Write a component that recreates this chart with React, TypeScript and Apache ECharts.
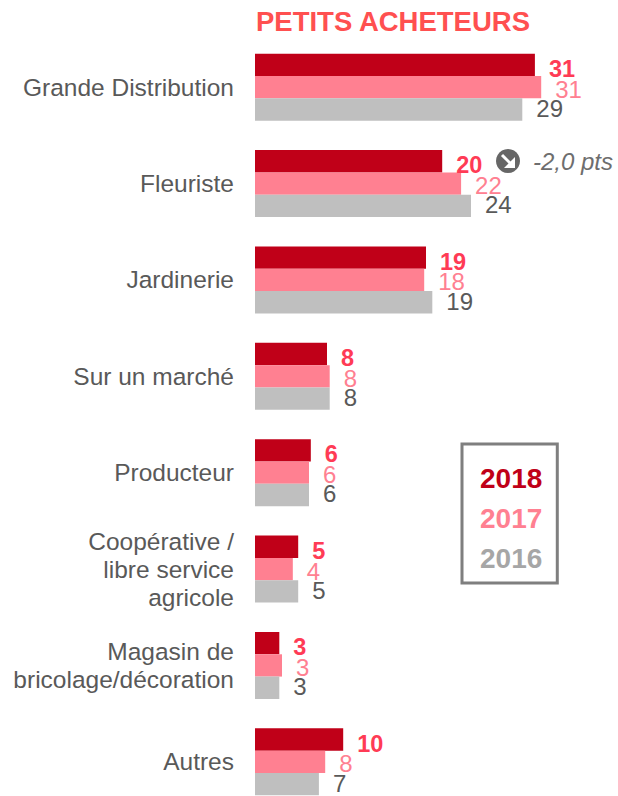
import React, { useEffect, useRef } from "react";
import * as echarts from "echarts";

const categories = ["Grande Distribution", "Fleuriste", "Jardinerie", "Sur un marché", "Producteur", "Coopérative /\nlibre service\nagricole", "Magasin de\nbricolage/décoration", "Autres"];
const seriesNames = ["2018", "2017", "2016"];
const barLengths2018 = [31.1, 20.8, 19, 8, 6.2, 4.8, 2.7, 9.8];
const barLengths2017 = [31.8, 22.9, 18.8, 8.3, 6, 4.2, 3, 7.8];
const barLengths2016 = [29.7, 24, 19.7, 8.3, 6, 4.8, 2.7, 7.1];
const labels2018 = [31, 20, 19, 8, 6, 5, 3, 10];
const labels2017 = [31, 22, 18, 8, 6, 4, 3, 8];
const labels2016 = [29, 24, 19, 8, 6, 5, 3, 7];
const titleText = "PETITS ACHETEURS";
const noteText = "-2,0 pts";

const FONT = "'Liberation Sans', Arial, sans-serif";

function makeSeries(name: string, values: number[], labels: number[], color: string, labelColor: string, bold: boolean, dy: number) {
  return {
    name,
    type: "bar",
    data: values,
    barWidth: 22.3,
    barGap: "0%",
    itemStyle: { color },
    label: {
      show: true,
      position: "right",
      distance: 14,
      offset: [0, dy],
      color: labelColor,
      fontFamily: FONT,
      fontSize: bold ? 23.5 : 24,
      fontWeight: bold ? "bold" : "normal",
      formatter: (p: any) => String(labels[p.dataIndex]),
    },
  };
}

export default function App() {
  const ref = useRef<HTMLDivElement>(null);
  useEffect(() => {
    const chart = echarts.init(ref.current!, undefined, { renderer: "svg" });
    chart.setOption({
      animation: false,
      title: {
        text: titleText,
        left: 256,
        top: 7,
        padding: 0,
        textStyle: { color: "#FF5050", fontFamily: FONT, fontSize: 27.5, fontWeight: "bold" },
      },
      grid: { left: 255, top: 39, width: 360, height: 771, outerBoundsMode: "none", containLabel: false },
      xAxis: { type: "value", min: 0, max: 40, show: false },
      yAxis: {
        type: "category",
        inverse: true,
        data: categories,
        axisLine: { show: false },
        axisTick: { show: false },
        axisLabel: { color: "#595959", fontFamily: FONT, fontSize: 24.5, margin: 21, lineHeight: 28, align: "right" },
      },
      legend: {
        orient: "vertical",
        left: 462,
        top: 444,
        itemWidth: 0,
        itemHeight: 0,
        icon: "none",
        itemGap: 12,
        padding: [20, 15, 11, 13],
        borderColor: "#7F7F7F",
        borderWidth: 3,
        selectedMode: false,
        data: [
          { name: "2018", textStyle: { color: "#C00018" } },
          { name: "2017", textStyle: { color: "#FF8091" } },
          { name: "2016", textStyle: { color: "#A6A6A6" } },
        ],
        textStyle: { fontFamily: FONT, fontSize: 28, fontWeight: "bold" },
      },
      graphic: [
        { type: "circle", shape: { cx: 508, cy: 161, r: 12 }, style: { fill: "#666666" } },
        { type: "line", shape: { x1: 502, y1: 155, x2: 513, y2: 166 }, style: { stroke: "#FFFFFF", lineWidth: 3 } },
        { type: "polygon", shape: { points: [[515, 157], [515, 168], [504, 168]] }, style: { fill: "#FFFFFF" } },
        {
          type: "text",
          x: 533,
          y: 161,
          style: { text: noteText, fill: "#6E6E6E", font: `italic 24px ${FONT}`, verticalAlign: "middle" },
        },
      ],
      series: [
        makeSeries(seriesNames[0], barLengths2018, labels2018, "#C00018", "#FF3B55", true, 4),
        makeSeries(seriesNames[1], barLengths2017, labels2017, "#FF8091", "#FF8091", false, 2),
        makeSeries(seriesNames[2], barLengths2016, labels2016, "#BFBFBF", "#595959", false, -1),
      ],
    });
    return () => chart.dispose();
  }, []);
  return <div ref={ref} style={{ position: "absolute", left: 0, top: 0, width: 618, height: 796 }} />;
}
